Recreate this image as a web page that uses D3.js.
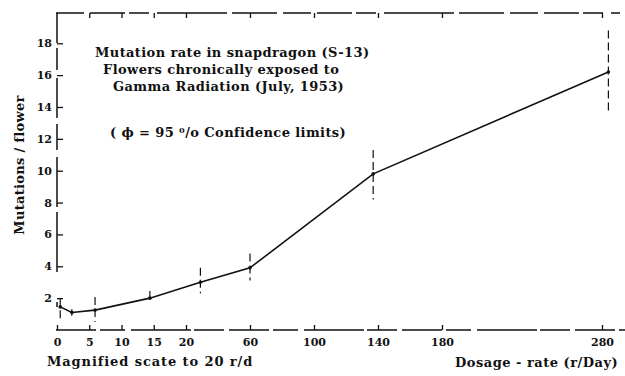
<!DOCTYPE html>
<html>
<head>
<meta charset="utf-8">
<script src="https://cdn.jsdelivr.net/npm/d3@7"></script>
<style>
  body { margin: 0; background: #fff; }
  svg text { font-family: "DejaVu Serif", serif; font-weight: bold; fill: #111; }
</style>
</head>
<body>
<svg id="chart" width="625" height="376"></svg>
<script>
// dose-rate (r/day), mutations per flower, 95% confidence limits
const doses = [0.5, 2.3, 5.9, 14.4, 29, 60, 137, 284];
const rates = [1.45, 1.1, 1.25, 2.0, 3.0, 3.9, 9.8, 16.2];
const lowLimits = [0.5, 0.9, 0.5, 1.7, 2.3, 3.1, 8.2, 13.6];
const highLimits = [2.0, 1.3, 2.07, 2.45, 3.9, 4.8, 11.3, 18.8];

const xTicks = [0, 5, 10, 15, 20, 60, 100, 140, 180, 280];
const yTicks = [2, 4, 6, 8, 10, 12, 14, 16, 18];

const titleLines = ["Mutation rate in snapdragon (S-13)", "Flowers chronically exposed to", "Gamma Radiation (July, 1953)"];

const svg = d3.select("#chart");

// magnified scale up to 20 r/d, then the normal scale
const x = d3.scaleLinear().domain([0, 20, 280]).range([57, 186, 602]);
const y = d3.scaleLinear().domain([0, 19.9]).range([330, 13]);

// axes
const xAxis = svg.append("g")
    .attr("transform", `translate(0, ${y(0)})`)
    .call(d3.axisBottom(x).tickValues(xTicks).tickSize(-5).tickPadding(4).tickFormat(d3.format("d")));
xAxis.select(".domain").remove();
xAxis.selectAll("text").style("font-size", "11px").attr("dy", "1.1em");

svg.append("line")
    .attr("x1", 56).attr("x2", 625)
    .attr("y1", y(0)).attr("y2", y(0))
    .attr("stroke", "#111").attr("stroke-width", 1.5)
    .attr("stroke-dasharray", "40,4,25,6,60,3,30,5");

// top frame
const topAxis = svg.append("g")
    .attr("transform", `translate(0, ${y(19.9)})`)
    .call(d3.axisTop(x).tickValues(xTicks.slice(1)).tickSize(-5).tickFormat(""));
topAxis.select(".domain").remove();
svg.append("line")
    .attr("x1", 56).attr("x2", 620)
    .attr("y1", y(19.9)).attr("y2", y(19.9))
    .attr("stroke", "#111").attr("stroke-width", 1.5)
    .attr("stroke-dasharray", "28,6,35,4,20,8,70,5,45,6");

const yAxis = svg.append("g")
    .attr("transform", `translate(57, 0)`)
    .call(d3.axisLeft(y).tickValues(yTicks).tickSize(-6).tickPadding(5));
yAxis.select(".domain").remove();
yAxis.selectAll("text").style("font-size", "11px");

svg.append("line")
    .attr("x1", 57).attr("x2", 57)
    .attr("y1", y(19.9)).attr("y2", y(0))
    .attr("stroke", "#111").attr("stroke-width", 1.5)
    .attr("stroke-dasharray", "30,5,22,8,40,6,26,7,50,5,60");

svg.selectAll(".tick line").attr("stroke", "#111").attr("stroke-width", 1.3);

// error bars
svg.selectAll(".err")
    .data(doses)
    .enter().append("line")
    .attr("class", "err")
    .attr("x1", d => x(d)).attr("x2", d => x(d))
    .attr("y1", (d, i) => y(highLimits[i]))
    .attr("y2", (d, i) => y(lowLimits[i]))
    .attr("stroke", "#111").attr("stroke-width", 1.2)
    .attr("stroke-dasharray", "8,4");

// the curve
const line = d3.line()
    .x(d => x(d[0]))
    .y(d => y(d[1]))
    .curve(d3.curveLinear);

svg.append("path")
    .datum(doses.map((d, i) => [d, rates[i]]))
    .attr("d", line)
    .attr("fill", "none")
    .attr("stroke", "#111")
    .attr("stroke-width", 1.6);

svg.selectAll(".pt")
    .data(doses)
    .enter().append("circle")
    .attr("cx", d => x(d))
    .attr("cy", (d, i) => y(rates[i]))
    .attr("r", 1.8)
    .attr("fill", "#111");

// title block
svg.append("g").selectAll("text")
    .data(titleLines)
    .enter().append("text")
    .attr("x", (d, i) => [95, 103, 113][i])
    .attr("y", (d, i) => 57 + i * 17)
    .style("font-size", "13px")
    .style("letter-spacing", "0.4px")
    .text(d => d);

svg.append("text")
    .attr("x", 110).attr("y", 137)
    .style("font-size", "13px")
    .style("letter-spacing", "0.4px")
    .text("( \u03d5 = 95 \u2070/o Confidence limits)");

// axis titles
svg.append("text")
    .attr("transform", "translate(24, 165) rotate(-90)")
    .attr("text-anchor", "middle")
    .style("font-size", "13px")
    .style("letter-spacing", "0.3px")
    .text("Mutations / flower");

svg.append("text")
    .attr("x", 47).attr("y", 366)
    .style("font-size", "13px")
    .style("letter-spacing", "0.9px")
    .text("Magnified scate to 20 r/d");

svg.append("text")
    .attr("x", 455).attr("y", 367)
    .style("font-size", "13px")
    .style("letter-spacing", "0.5px")
    .text("Dosage - rate (r/Day)");
</script>
</body>
</html>
